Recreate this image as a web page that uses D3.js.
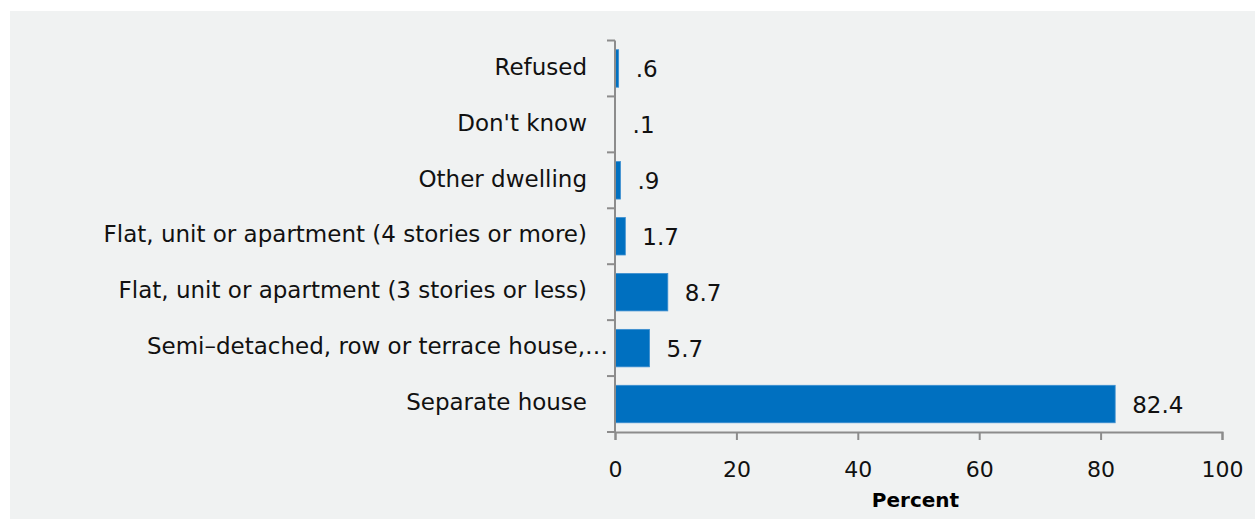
<!DOCTYPE html>
<html>
<head>
<meta charset="utf-8">
<script src="https://cdn.jsdelivr.net/npm/d3@7"></script>
<style>
  body { margin: 0; background: #fff; }
  svg { display: block; }
</style>
</head>
<body>
<svg id="chart"></svg>
<script>
const width  = 1255
const height = 519

// categories top to bottom, values in percent
const categories = [
    "Refused",
    "Don't know",
    "Other dwelling",
    "Flat, unit or apartment (4 stories or more)",
    "Flat, unit or apartment (3 stories or less)",
    "Semi\u2013detached, row or terrace house,\u2026",
    "Separate house"
]
const values = [0.6, 0.1, 0.9, 1.7, 8.7, 5.7, 82.4]
const valueLabels = [".6", ".1", ".9", "1.7", "8.7", "5.7", "82.4"]
const xTicks = [0, 20, 40, 60, 80, 100]

const font = "'DejaVu Sans', sans-serif"
const axisColor = "#8c8c8c"

let svg = d3.select("#chart")
            .attr("width", width)
            .attr("height", height)

// panel background
svg.append("rect")
    .attr("x", 10).attr("y", 11)
    .attr("width", width - 10).attr("height", height - 11)
    .attr("fill", "#f0f2f2")

const margin = { left: 615, right: 33, top: 40.5, bottom: 87 }

const x = d3.scaleLinear()
    .domain([0, 100])
    .range([margin.left, width - margin.right])

const y = d3.scaleBand()
    .domain(categories)
    .range([margin.top, height - margin.bottom])
    .paddingInner(0.33)
    .paddingOuter(0.165)

// bars
svg.append("g")
    .selectAll("rect")
    .data(values)
    .enter().append("rect")
    .attr("x", x(0))
    .attr("y", (d, i) => y(categories[i]))
    .attr("width", d => x(d) - x(0))
    .attr("height", y.bandwidth())
    .attr("fill", "#0070c0")
    .attr("stroke", "#3d8fd0")
    .attr("stroke-width", 0.8)

// value labels
svg.append("g")
    .selectAll("text")
    .data(values)
    .enter().append("text")
    .attr("x", d => x(d) + 17)
    .attr("y", (d, i) => y(categories[i]) + y.bandwidth() / 2)
    .attr("dy", ".38em")
    .style("font-family", font)
    .style("font-size", "23px")
    .attr("fill", "#111")
    .text((d, i) => valueLabels[i])

// y axis (tick marks at band boundaries)
const yAxisG = svg.append("g")
yAxisG.append("line")
    .attr("x1", x(0)).attr("x2", x(0))
    .attr("y1", margin.top).attr("y2", height - margin.bottom)
    .attr("stroke", axisColor).attr("stroke-width", 2)
const boundaries = d3.range(categories.length + 1).map(i => margin.top + i * (height - margin.bottom - margin.top) / categories.length)
yAxisG.selectAll(".tk")
    .data(boundaries)
    .enter().append("line")
    .attr("x1", x(0) - 8).attr("x2", x(0))
    .attr("y1", d => d).attr("y2", d => d)
    .attr("stroke", axisColor).attr("stroke-width", 2)

// category labels (truncated ones run up to the tick marks)
svg.append("g")
    .selectAll("text")
    .data(categories)
    .enter().append("text")
    .attr("x", d => d.endsWith("\u2026") ? x(0) - 7 : x(0) - 28)
    .attr("y", d => y(d) + y.bandwidth() / 2)
    .attr("dy", ".27em")
    .attr("text-anchor", "end")
    .style("font-family", font)
    .style("font-size", "23px")
    .attr("fill", "#111")
    .text(d => d)

// x axis
const xAxis = d3.axisBottom(x)
    .tickValues(xTicks)
    .tickSize(8)
    .tickSizeOuter(8)
    .tickPadding(21)
    .tickFormat(d3.format("d"))

const xAxisG = svg.append("g")
    .attr("transform", `translate(0,${height - margin.bottom})`)
    .call(xAxis)
xAxisG.select(".domain").attr("stroke", axisColor).attr("stroke-width", 2)
xAxisG.selectAll(".tick line").attr("stroke", axisColor).attr("stroke-width", 2)
xAxisG.selectAll(".tick text")
    .style("font-family", font)
    .style("font-size", "22px")
    .attr("fill", "#111")

// axis title
svg.append("text")
    .attr("x", (x(0) + x(100)) / 2 - 3)
    .attr("y", 507)
    .attr("text-anchor", "middle")
    .style("font-family", font)
    .style("font-size", "20px")
    .style("font-weight", "bold")
    .attr("fill", "#000")
    .text("Percent")
</script>
</body>
</html>
